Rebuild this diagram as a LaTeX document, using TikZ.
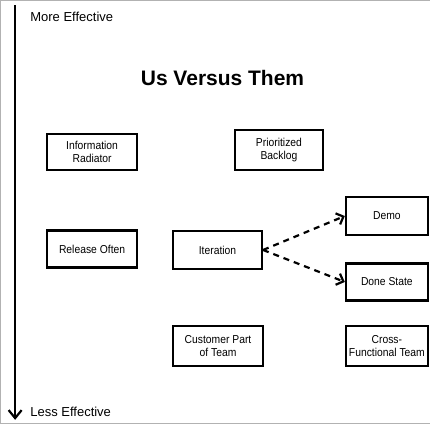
\documentclass[tikz,border=0pt]{standalone}
\usepackage{fontspec}
\setmainfont{Liberation Sans}
\newfontfamily\narrowfont[FakeStretch=0.9]{Liberation Sans}
\usetikzlibrary{arrows.meta}
\begin{document}
\begin{tikzpicture}[x=1pt,y=-1pt,
  box/.style={draw,line width=2.2pt,align=center,inner sep=0pt,font=\narrowfont\fontsize{11.5}{12.5}\selectfont},
  flow/.style={line width=2.2pt,dash pattern=on 6pt off 5pt,-{Straight Barb[length=6pt,width=12pt]}},
  lbl/.style={font=\fontsize{13}{15}\selectfont,anchor=west,inner sep=0pt}]
\draw[black!30,line width=0.3pt] (0,0) rectangle (430,423);
\coordinate (top) at (15,5);
\coordinate (bot) at (15,420);
\draw[line width=2.2pt,-{Straight Barb[length=8pt,width=13pt]}] (top) -- (bot);
\node[lbl] (more) at (30,17) {More Effective};
\node[lbl] (less) at (30,412) {Less Effective};
\node[font=\bfseries\fontsize{21}{23}\selectfont] (title) at (222.5,78) {Us Versus Them};
\node[box,minimum height=36pt,minimum width=90pt] (ir) at (92,152) {Information\\Radiator};
\node[box,minimum height=40pt,minimum width=88pt] (pb) at (279,150) {Prioritized\\Backlog};
\node[box,minimum height=37pt,minimum width=90pt] (ro) at (92,249) {Release Often};
\node[box,minimum height=38pt,minimum width=89pt] (it) at (217.5,250) {Iteration};
\node[box,minimum height=38pt,minimum width=82pt] (demo) at (387,216) {Demo};
\node[box,minimum height=37pt,minimum width=82pt] (done) at (387,282) {Done State};
\node[box,minimum height=40pt,minimum width=90pt] (cust) at (218,346) {Customer Part\\of Team};
\node[box,minimum height=40pt,minimum width=82pt] (cross) at (387,346) {Cross-\\Functional Team};
\draw[flow] (it.east) -- (demo.west);
\draw[flow] (it.east) -- (done.west);
\end{tikzpicture}
\end{document}
